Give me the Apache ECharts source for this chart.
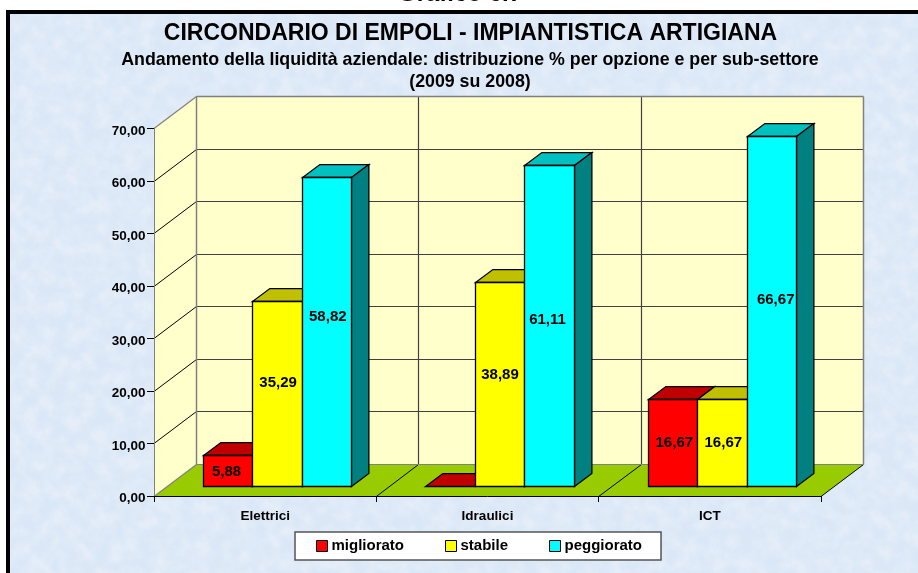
<!DOCTYPE html>
<html><head><meta charset="utf-8">
<style>
html,body{margin:0;padding:0;background:#fff;width:918px;height:573px;overflow:hidden}
#paper{position:absolute;left:6px;top:10px;width:912px;height:563px;box-sizing:border-box;border-left:4px solid #000;border-top:4px solid #000;background-color:#dbe9f8}
#chart{position:absolute;left:0;top:0;width:918px;height:573px}
</style>
<script src="https://cdn.jsdelivr.net/npm/echarts@6/dist/echarts.min.js"></script>
</head><body>
<div id="paper"></div>
<div id="chart"></div>
<script>
const categories = ['Elettrici', 'Idraulici', 'ICT'];
const migliorato = [5.88, 0, 16.67];
const stabile = [35.29, 38.89, 16.67];
const peggiorato = [58.82, 61.11, 66.67];
const yTicks = [0, 10, 20, 30, 40, 50, 60, 70];
const captionText = 'Grafico 6.7';
const mainTitle = 'CIRCONDARIO DI EMPOLI - IMPIANTISTICA ARTIGIANA';
const subTitle = 'Andamento della liquidità aziendale: distribuzione % per opzione e per sub-settore\n(2009 su 2008)';

// hand placement of the data labels in the reference (px, relative to the middle of the front face)
const labelNudgeX = [[-1.5, 0, 1.3], [0.6, 0, 0.8], [0.8, -2, 3.7]];
const labelNudgeY = [[0.5, 0, 0], [-11.4, -9.7, 0], [-14.7, -6.4, -12]];

// paper texture
const svg = "<svg xmlns='http://www.w3.org/2000/svg' width='912' height='563'><filter id='n' x='0' y='0' width='100%' height='100%'><feTurbulence type='fractalNoise' baseFrequency='.07' numOctaves='4' seed='7'/><feColorMatrix values='0 0 0 0 .70 0 0 0 0 .80 0 0 0 0 .93 2.4 0 0 0 -.65'/></filter><rect width='912' height='563' fill='#e4edf8'/><rect width='912' height='563' filter='url(#n)'/></svg>";
document.getElementById('paper').style.backgroundImage = 'url("data:image/svg+xml,' + encodeURIComponent(svg) + '")';

const FONT = '"Liberation Sans", Arial, sans-serif';
const DX = 42.4, DY = -31.6;          // wall depth
const T0 = 0.295, T1 = 0.705;         // bar depth inside the floor
const crisp = v => Math.round(v - 0.5) + 0.5;

function ln(x1, y1, x2, y2, stroke, width) {
  return { type: 'line', shape: { x1, y1, x2, y2 }, style: { stroke, lineWidth: width || 1.2, fill: null } };
}
function poly(points, fill, stroke) {
  return { type: 'polygon', shape: { points }, style: { fill, stroke: stroke || null, lineWidth: 1.3, lineJoin: 'miter' } };
}

function renderFrame(params, api) {
  const c = params.coordSys, L = c.x, R = c.x + c.width;
  const Y = v => crisp(api.coord([0, v])[1]);
  const y0 = Y(0), yT = Y(70);
  const bx = crisp(L + DX), rx = crisp(R + DX), by0 = crisp(y0 + DY), byT = crisp(yT + DY);
  const wall = '#FFFFCC', grey = '#808080', dark = '#404040';
  const ch = [
    poly([[L, y0], [bx, by0], [bx, byT], [L, yT]], wall),
    poly([[bx, byT], [rx, byT], [rx, by0], [bx, by0]], wall),
    poly([[L, y0], [R, y0], [rx, by0], [bx, by0]], '#99CC00')
  ];
  yTicks.forEach(t => {
    if (t === 0 || t === 70) return;
    const y = Y(t);
    ch.push(ln(bx, crisp(y + DY), rx, crisp(y + DY), dark));
    ch.push(ln(L, y, bx, crisp(y + DY), '#000', 1));
  });
  const band = api.size([1, 0])[0];
  for (let i = 1; i < categories.length; i++) {
    const x = L + band * i;
    ch.push(ln(crisp(x + DX), byT, crisp(x + DX), by0, dark));
    ch.push(ln(x, y0, crisp(x + DX), by0, '#000', 1));
  }
  ch.push(ln(R, y0, rx, by0, '#000', 1));
  ch.push(ln(L, yT, bx, byT, grey));
  ch.push(ln(L, y0, bx, by0, grey));
  ch.push(ln(bx, byT, rx, byT, grey, 1.5));
  ch.push(ln(bx, byT, bx, by0, grey, 1.5));
  ch.push(ln(rx, byT, rx, by0, grey, 1.5));
  ch.push(ln(bx, by0, rx, by0, grey));
  return { type: 'group', children: ch };
}

function barRenderer(si, front, top, side) {
  return function (params, api) {
    const cat = api.value(0), val = api.value(1);
    const p = api.coord([cat, val]), p0 = api.coord([cat, 0]);
    const band = api.size([1, 0])[0];
    const w = band * (2 / 3) / 3;
    const fx = p[0] - band / 3 + si * w + T0 * DX;
    const x1 = crisp(fx), x2 = crisp(fx + w);
    const yb = crisp(p0[1] + T0 * DY), yt = crisp(p[1] + T0 * DY);
    const ddx = (T1 - T0) * DX, ddy = (T1 - T0) * DY;
    const ch = [];
    ch.push(poly([[x1, yt], [x2, yt], [x2 + ddx, yt + ddy], [x1 + ddx, yt + ddy]], top, '#000'));
    ch.push(poly([[x2, yt], [x2 + ddx, yt + ddy], [x2 + ddx, yb + ddy], [x2, yb]], side, '#000'));
    if (val > 0) {
      ch.push({ type: 'rect', shape: { x: x1, y: yt, width: x2 - x1, height: yb - yt }, style: { fill: front, stroke: '#000', lineWidth: 1.3 } });
      ch.push({
        type: 'text',
        style: {
          text: val.toFixed(2).replace('.', ','),
          x: (x1 + x2) / 2 + labelNudgeX[si][cat],
          y: (yt + yb) / 2 + labelNudgeY[si][cat],
          fill: '#000', font: 'bold 15px ' + FONT, align: 'center', verticalAlign: 'middle'
        }
      });
    } else {
      ch.push(ln(x1, yb, x2, yb, '#000'));
    }
    return { type: 'group', children: ch };
  };
}

function barSeries(name, values, si, front, top, side) {
  return {
    name, type: 'custom', coordinateSystem: 'cartesian2d', z: 5,
    itemStyle: { color: front },
    encode: { x: 0, y: 1 },
    data: values.map((v, i) => [i, v]),
    renderItem: barRenderer(si, front, top, side),
    silent: true, clip: false
  };
}

const chart = echarts.init(document.getElementById('chart'), null, { renderer: 'canvas' });
chart.setOption({
  animation: false,
  backgroundColor: 'transparent',
  textStyle: { fontFamily: FONT },
  title: [
    { text: mainTitle, left: 470.5, top: 22, textAlign: 'center', padding: 0,
      textStyle: { fontFamily: FONT, fontWeight: 'bold', fontSize: 23, color: '#000', lineHeight: 24 } },
    { text: subTitle, left: 470, top: 49.5, textAlign: 'center', padding: 0,
      textStyle: { fontFamily: FONT, fontWeight: 'bold', fontSize: 17.8, color: '#000', lineHeight: 22 } }
  ],
  graphic: [{ type: 'text', x: 398, y: 6, silent: true,
    style: { text: captionText, x: 0, y: 0, font: 'bold 24px ' + FONT, fill: '#000', verticalAlign: 'bottom' } }],
  legend: {
    left: 295, top: 532, orient: 'horizontal',
    padding: [6.5, 19, 6.5, 21],
    backgroundColor: '#fff', borderColor: '#555', borderWidth: 1.5, borderRadius: 0,
    itemWidth: 11, itemHeight: 11, itemGap: 41,
    icon: 'rect',
    itemStyle: { borderColor: '#000', borderWidth: 1 },
    textStyle: { fontFamily: FONT, fontWeight: 'bold', fontSize: 15, color: '#000', padding: [0, 0, 0, -1] },
    data: ['migliorato', 'stabile', 'peggiorato']
  },
  grid: { left: 154, right: 97, top: 128.5, bottom: 77, containLabel: false },
  xAxis: {
    type: 'category', data: categories, z: 4,
    axisLine: { show: true, lineStyle: { color: '#000', width: 1 } },
    axisTick: { show: true, length: 6, alignWithLabel: false, lineStyle: { color: '#000' } },
    axisLabel: { fontFamily: FONT, fontWeight: 'bold', fontSize: 13.5, color: '#000', margin: 13, interval: 0 },
    splitLine: { show: false }
  },
  yAxis: {
    type: 'value', min: 0, max: 70, interval: 10, z: 4,
    axisLine: { show: true, lineStyle: { color: '#808080', width: 1 } },
    axisTick: { show: true, length: 7, lineStyle: { color: '#000' } },
    axisLabel: { color: '#000', margin: 8.5,
      formatter: v => '{a|' + v.toFixed(2).replace('.', ',') + '}',
      rich: { a: { fontFamily: FONT, fontWeight: 'bold', fontSize: 13.5, color: '#000', padding: [5, 0, 0, 0] } } },
    splitLine: { show: false }
  },
  series: [
    { name: 'frame', type: 'custom', coordinateSystem: 'cartesian2d', z: 1, silent: true, clip: false,
      data: [[0, 0]], encode: { x: 0, y: 1 }, renderItem: renderFrame },
    barSeries('migliorato', migliorato, 0, '#FF0000', '#C00000', '#800000'),
    barSeries('stabile', stabile, 1, '#FFFF00', '#C0C000', '#808000'),
    barSeries('peggiorato', peggiorato, 2, '#00FFFF', '#00C0C0', '#008080')
  ]
});
</script>
</body></html>
